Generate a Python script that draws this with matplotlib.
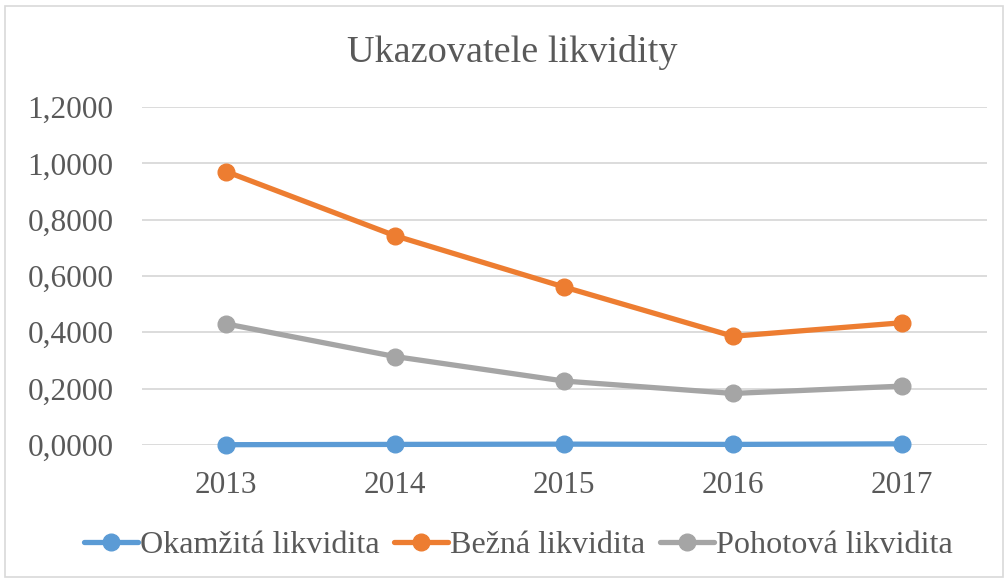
import matplotlib
matplotlib.use("Agg")
import matplotlib.pyplot as plt
from matplotlib.patches import Rectangle
from matplotlib.ticker import FuncFormatter

# data
years = ["2013", "2014", "2015", "2016", "2017"]
okamzita = [0.0010, 0.0020, 0.0030, 0.0020, 0.0040]
bezna = [0.9710, 0.7430, 0.5610, 0.3860, 0.4340]
pohotova = [0.4300, 0.3140, 0.2270, 0.1830, 0.2090]
series_names = ["Okamžitá likvidita", "Bežná likvidita", "Pohotová likvidita"]
series_colors = ["#5B9BD5", "#ED7D31", "#A5A5A5"]

plt.rcParams['font.family'] = ['Liberation Serif', 'DejaVu Serif']
text_color = "#595959"

fig = plt.figure(figsize=(10.08, 5.8), dpi=100)
ax = fig.add_axes([0.1404, 0.2328, 0.8383, 0.5827])

x = list(range(len(years)))
for vals, name, col in zip([okamzita, bezna, pohotova], series_names, series_colors):
    ax.plot(x, vals, color=col, linewidth=3.8, marker='o', markersize=12,
            label=name, solid_capstyle='round', clip_on=False, zorder=3)

ax.set_xlim(-0.5, len(years) - 0.5)
ax.set_ylim(0, 1.2)
ax.set_yticks([0, 0.2, 0.4, 0.6, 0.8, 1.0, 1.2])
ax.yaxis.set_major_formatter(FuncFormatter(lambda v, p: f"{v:.4f}".replace('.', ',')))
ax.set_xticks(x)
ax.set_xticklabels(years)
ax.grid(axis='y', color="#D9D9D9", linewidth=1.3)
ax.set_axisbelow(True)
for s in ax.spines.values():
    s.set_visible(False)
ax.tick_params(axis='both', length=0, labelsize=22.5, labelcolor=text_color)
ax.tick_params(axis='y', pad=20)
ax.tick_params(axis='x', pad=19)

fig.text(0.508, 1 - 53 / 580, "Ukazovatele likvidity", ha='center', va='center',
         fontsize=27.5, color=text_color)

leg = fig.legend(loc='center', bbox_to_anchor=(0.514, 1 - 545 / 580), ncol=3,
                 frameon=False, fontsize=23.1, handlelength=1.7,
                 handletextpad=0.05, columnspacing=0.45)
for t in leg.get_texts():
    t.set_color(text_color)

fig.patches.append(Rectangle((0.005, 0.005), 0.99, 0.985, transform=fig.transFigure,
                             fill=False, edgecolor="#D9D9D9", linewidth=1.2))

fig.savefig("out.png", dpi=100)
